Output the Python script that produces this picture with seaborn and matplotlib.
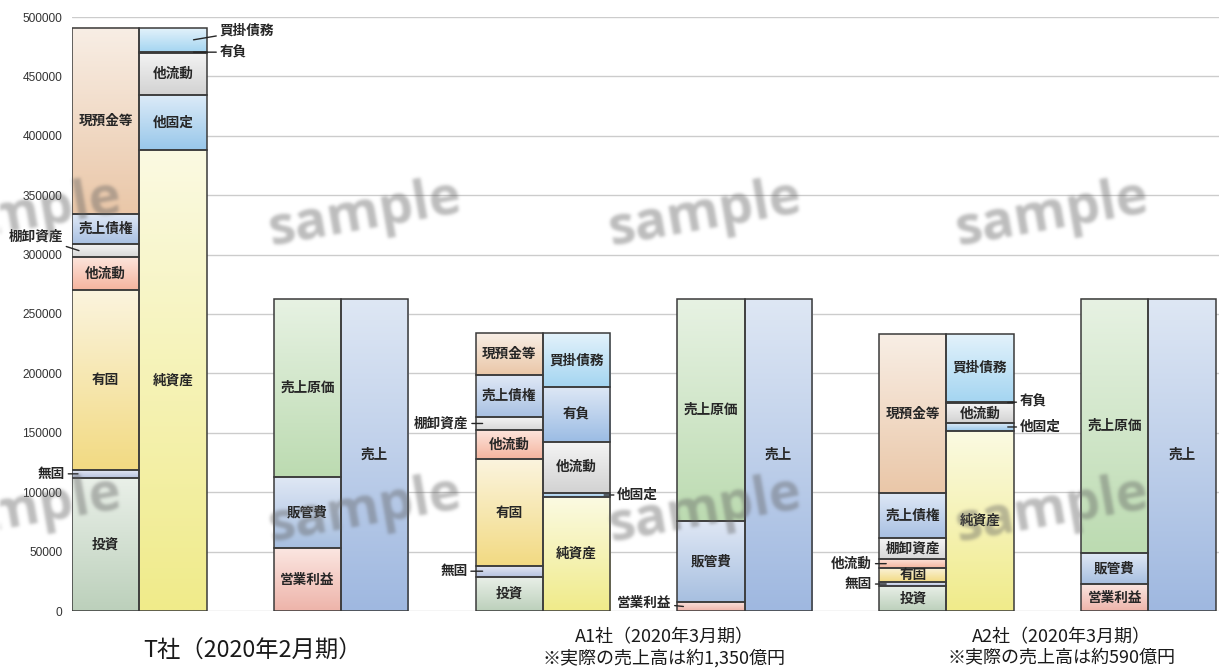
import numpy as np
import pandas as pd
import matplotlib
matplotlib.use("Agg")
import matplotlib.pyplot as plt
from matplotlib.colors import to_rgb
from matplotlib.transforms import blended_transform_factory
import seaborn as sns

# ---- data -------------------------------------------------------------
companies = ["T社", "A1社", "A2社"]

# 資産の部（下から積み上げ）
asset_items = ["投資", "無固", "有固", "他流動", "棚卸資産", "売上債権", "現預金等"]
assets_T = [112200, 6500, 151500, 27800, 10700, 25200, 156800]
assets_A1 = [28900, 9200, 89600, 24700, 10900, 35100, 35300]
assets_A2 = [21300, 2800, 11800, 7900, 17400, 37900, 133800]

# 負債・純資産の部
liab_items = ["純資産", "他固定", "他流動", "有負", "買掛債務"]
liab_T = [388300, 45800, 35800, 1000, 19800]
liab_A1 = [95700, 3900, 42700, 46000, 45400]
liab_A2 = [151800, 6200, 16800, 1400, 56700]

# 損益計算書：費用・利益側
cost_items = ["営業利益", "販管費", "売上原価"]
cost_T = [52800, 60300, 149500]
cost_A1 = [7600, 68200, 186800]
cost_A2 = [22700, 25900, 214000]

# 損益計算書：売上側
sales_items = ["売上"]
sales_T = [262600]
sales_A1 = [262600]
sales_A2 = [262600]

y_ticks = list(range(0, 500001, 50000))

group_labels = [
    "T社（2020年2月期）",
    "A1社（2020年3月期）\n※実際の売上高は約1,350億円",
    "A2社（2020年3月期）\n※実際の売上高は約590億円",
]

# ---- styling ----------------------------------------------------------
# (上端色, 下端色) のグラデーション
palette = {
    ("asset", "投資"): ("#eaf0e9", "#bcd0bb"),
    ("asset", "無固"): ("#e2e6f2", "#b6c2df"),
    ("asset", "有固"): ("#fbf4de", "#f2da82"),
    ("asset", "他流動"): ("#fde6de", "#f5b49e"),
    ("asset", "棚卸資産"): ("#f4f4f4", "#d8d8d8"),
    ("asset", "売上債権"): ("#e0e9f6", "#a8c0e2"),
    ("asset", "現預金等"): ("#f8eee5", "#eac7a8"),
    ("liab", "純資産"): ("#fbfae2", "#f0eb8a"),
    ("liab", "他固定"): ("#dcebf8", "#98c7ea"),
    ("liab", "他流動"): ("#f4f4f4", "#d2d2d2"),
    ("liab", "有負"): ("#dde7f5", "#9bbce4"),
    ("liab", "買掛債務"): ("#e3f2fb", "#a4d5f1"),
    ("cost", "営業利益"): ("#fbe6e1", "#eeb4aa"),
    ("cost", "販管費"): ("#e0e8f5", "#a7bfe0"),
    ("cost", "売上原価"): ("#e7f2e3", "#bcdbb1"),
    ("sales", "売上"): ("#dee7f4", "#9fb8e0"),
}

# 細い区分は枠外に引き出し線で表記: (社, 列, 項目, 内側px, 文字dx, 文字dy)
callouts = [
    (0, "asset", "棚卸資産", 7, -16, 14),
    (0, "asset", "無固", 6, -13, 0),
    (0, "liab", "買掛債務", 13, 26, 9),
    (0, "liab", "有負", 13, 26, 0),
    (1, "asset", "棚卸資産", 7, -14, 0),
    (1, "asset", "無固", 7, -15, 0),
    (1, "liab", "他固定", 6, 13, 0),
    (1, "cost", "営業利益", 6, -12, 4),
    (2, "asset", "他流動", 7, -14, 0),
    (2, "asset", "無固", 7, -14, 0),
    (2, "liab", "有負", 6, 12, 1),
    (2, "liab", "他固定", 6, 12, 0),
]

sns.set_theme(style="white")
plt.rcParams["font.family"] = ["Noto Sans CJK JP", "DejaVu Sans"]

W, H, DPI = 1219, 670, 100
fig = plt.figure(figsize=(W / DPI, H / DPI), dpi=DPI)
ax = fig.add_axes([72 / W, 1 - 611 / H, 1 - 72 / W, (611 - 17) / H])

columns = {
    "asset": (asset_items, [assets_T, assets_A1, assets_A2], 0, -1 / 6, "left"),
    "liab": (liab_items, [liab_T, liab_A1, liab_A2], 0, 1 / 6, "right"),
    "cost": (cost_items, [cost_T, cost_A1, cost_A2], 1, -1 / 6, "left"),
    "sales": (sales_items, [sales_T, sales_A1, sales_A2], 1, 1 / 6, "right"),
}

bar_w = 1 / 3
segments = {}  # (company, column, item) -> (x_center, bottom, height, side)

for kind, (items, vals, slot_off, bar_off, side) in columns.items():
    arr = np.array(vals, dtype=float)
    bottoms = np.hstack([np.zeros((3, 1)), np.cumsum(arr, axis=1)[:, :-1]])
    xs = [2 * c + slot_off + bar_off for c in range(3)]
    for j, item in enumerate(items):
        df = pd.DataFrame({"x": xs, "v": arr[:, j]})
        n0 = len(ax.patches)
        sns.barplot(data=df, x="x", y="v", native_scale=True, width=bar_w / 2,
                    color=palette[(kind, item)][1], saturation=1, errorbar=None,
                    bottom=bottoms[:, j], edgecolor="#3a3a3a", linewidth=1.1, ax=ax)
        top_c, bot_c = palette[(kind, item)]
        for c, patch in enumerate(ax.patches[n0:]):
            x0, y0 = patch.get_x(), patch.get_y()
            w, h = patch.get_width(), patch.get_height()
            c1, c2 = np.array(to_rgb(bot_c)), np.array(to_rgb(top_c))
            t = np.linspace(0, 1, 128)[:, None]
            grad = c1 + (c2 - c1) * t
            img = np.repeat(grad[:, None, :], 2, axis=1)
            ax.imshow(img, extent=[x0, x0 + w, y0, y0 + h], origin="lower",
                      aspect="auto", interpolation="bilinear", zorder=1.5)
            patch.set_facecolor("none")
            patch.set_zorder(2)
            segments[(c, kind, item)] = (x0 + w / 2, y0, h, side)

ax.set_xlim(-1 / 3, -1 / 3 + (W - 72) / 201.8)
ax.set_ylim(0, 500000)

# 区分ラベル
callout_keys = {(c, k, i) for c, k, i, *_ in callouts}
for key, (xc, y0, h, side) in segments.items():
    if key in callout_keys:
        continue
    ax.text(xc, y0 + h / 2, key[2], ha="center", va="center", fontsize=9.8,
            fontweight="bold", color="#262626", zorder=4)

px = 1 / 201.8  # x方向 1px あたりのデータ量
for c, kind, item, inset, dx, dy in callouts:
    xc, y0, h, side = segments[(c, kind, item)]
    if side == "left":
        tx = xc - bar_w / 2 + inset * px
        ha = "right"
    else:
        tx = xc + bar_w / 2 - inset * px
        ha = "left"
    ax.annotate(item, xy=(tx, y0 + h / 2), xytext=(dx, dy), textcoords="offset pixels",
                ha=ha, va="center", fontsize=9.8, fontweight="bold", color="#262626",
                arrowprops=dict(arrowstyle="-", color="#262626", lw=1.0,
                                shrinkA=0, shrinkB=0),
                annotation_clip=False, zorder=5)

# 軸
ax.set_yticks(y_ticks)
ax.set_yticklabels([str(v) for v in y_ticks], fontsize=8.6, color="#333333",
                   family=["Liberation Sans", "DejaVu Sans"])
ax.tick_params(axis="y", length=0, pad=7)
ax.set_xticks([])
ax.set_xlabel("")
ax.set_ylabel("")
ax.yaxis.grid(True, color="#cccccc", lw=1.0, zorder=0)
ax.set_axisbelow(True)
sns.despine(ax=ax, left=True, bottom=True)

# 企業名
tr = blended_transform_factory(ax.transData, fig.transFigure)
fig.text(0.56, 1 - 651 / H, group_labels[0], transform=tr, ha="center", va="center",
         fontsize=16.8, color="#1a1a1a")
fig.text(2.6, 1 - 648 / H, group_labels[1], transform=tr, ha="center", va="center",
         fontsize=13, color="#1a1a1a", linespacing=1.22, multialignment="center")
fig.text(4.57, 1 - 648 / H, group_labels[2], transform=tr, ha="center", va="center",
         fontsize=13, color="#1a1a1a", linespacing=1.22, multialignment="center")

# 透かし文字：別キャンバスで描いてぼかし、最前面に重ねる
wm = plt.figure(figsize=(W / DPI, H / DPI), dpi=DPI)
wm.patch.set_alpha(0)
for yy in (214, 510):
    for xx in (25, 365, 705, 1052):
        wm.text(xx / W, 1 - yy / H, "sample", ha="center", va="center", rotation=10,
                fontsize=39, fontweight="bold", color="black",
                family=["Open Sans", "DejaVu Sans"])
wm.canvas.draw()
mask = np.asarray(wm.canvas.buffer_rgba())[..., 3].astype(float) / 255.0
plt.close(wm)
kern = np.exp(-0.5 * (np.arange(-5, 6) / 1.6) ** 2)
kern /= kern.sum()
mask = np.apply_along_axis(lambda r: np.convolve(r, kern, mode="same"), 1, mask)
mask = np.apply_along_axis(lambda r: np.convolve(r, kern, mode="same"), 0, mask)
overlay = np.zeros((mask.shape[0], mask.shape[1], 4))
overlay[..., :3] = 0.38
overlay[..., 3] = np.clip(mask, 0, 1) * 0.42
fig.figimage(overlay, xo=0, yo=0, origin="upper", zorder=10)

fig.savefig("out.png", dpi=DPI)
